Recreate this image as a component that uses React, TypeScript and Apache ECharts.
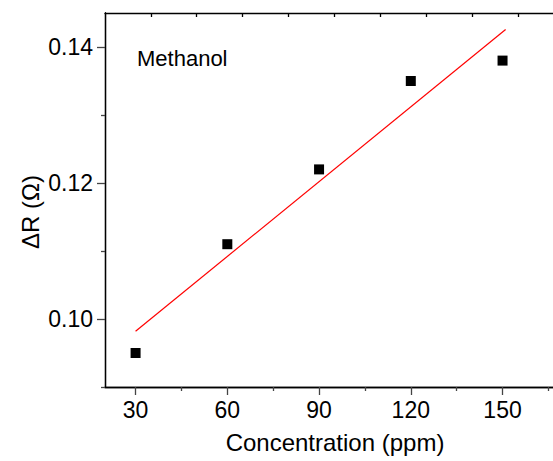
import React, { useEffect, useRef } from "react";
import * as echarts from "echarts";

const concentration = [30, 60, 90, 120, 150];
const deltaR = [0.095, 0.111, 0.122, 0.135, 0.138];
const fitRange = [30, 151];
const xMajorTicks = [30, 60, 90, 120, 150];
const xMinorTicks = [45, 75, 105, 135, 165];
const xTopTicks = [35, 50, 65, 80, 95, 110, 125, 140, 155];
const yMajorTicks = [0.1, 0.12, 0.14];
const yMinorTicks = [0.09, 0.11, 0.13];

const X_MIN = 20;
const X_MAX = 166.5;
const Y_MIN = 0.09;
const Y_MAX = 0.145;
const FONT = "Liberation Sans, Arial, sans-serif";

function linearFit(xs: number[], ys: number[]) {
  const n = xs.length;
  const mx = xs.reduce((a, b) => a + b, 0) / n;
  const my = ys.reduce((a, b) => a + b, 0) / n;
  let sxy = 0;
  let sxx = 0;
  for (let i = 0; i < n; i++) {
    sxy += (xs[i] - mx) * (ys[i] - my);
    sxx += (xs[i] - mx) * (xs[i] - mx);
  }
  const slope = sxy / sxx;
  return { slope, intercept: my - slope * mx };
}

export default function App() {
  const ref = useRef<HTMLDivElement>(null);
  useEffect(() => {
    if (!ref.current) return;
    const chart = echarts.init(ref.current, null, { renderer: "svg" });
    const { slope, intercept } = linearFit(concentration, deltaR);
    const fitData = fitRange.map((x) => [x, intercept + slope * x]);
    const axisLine = { show: true, lineStyle: { color: "#000", width: 1.3 } };
    const baseX = { type: "value", min: X_MIN, max: X_MAX, splitLine: { show: false } };
    const baseY = { type: "value", min: Y_MIN, max: Y_MAX, splitLine: { show: false } };
    chart.setOption({
      animation: false,
      backgroundColor: "#fff",
      grid: { left: 105, right: 0, top: 13, bottom: 74, containLabel: false },
      xAxis: [
        {
          ...baseX,
          position: "bottom",
          axisLine,
          axisTick: { show: true, inside: false, length: 8, customValues: xMajorTicks, lineStyle: { color: "#444", width: 1.3 } },
          axisLabel: { show: true, customValues: xMajorTicks, margin: 11, fontFamily: FONT, fontSize: 23, color: "#000" },
        },
        {
          ...baseX,
          position: "bottom",
          axisLine,
          axisTick: { show: true, inside: false, length: 4, customValues: xMinorTicks, lineStyle: { color: "#444", width: 1.3 } },
          axisLabel: { show: false },
        },
        {
          ...baseX,
          position: "top",
          axisLine,
          axisTick: { show: true, inside: true, length: 4, customValues: xTopTicks, lineStyle: { color: "#000", width: 1.3 } },
          axisLabel: { show: false },
        },
      ],
      yAxis: [
        {
          ...baseY,
          position: "left",
          axisLine,
          axisTick: { show: true, inside: false, length: 8, customValues: yMajorTicks, lineStyle: { color: "#444", width: 1.3 } },
          axisLabel: {
            show: true,
            customValues: yMajorTicks,
            margin: 12,
            fontFamily: FONT,
            fontSize: 23,
            color: "#000",
            formatter: (v: number) => v.toFixed(2),
          },
        },
        {
          ...baseY,
          position: "left",
          axisLine,
          axisTick: { show: true, inside: false, length: 4, customValues: yMinorTicks, lineStyle: { color: "#444", width: 1.3 } },
          axisLabel: { show: false },
        },
      ],
      graphic: [
        {
          type: "text",
          left: 137,
          top: 47,
          style: { text: "Methanol", fontFamily: FONT, fontSize: 22, fill: "#000" },
        },
        {
          type: "text",
          x: 335,
          y: 442,
          style: {
            text: "Concentration (ppm)",
            fontFamily: FONT,
            fontSize: 24,
            fill: "#000",
            textAlign: "center",
            textVerticalAlign: "middle",
          },
        },
        {
          type: "text",
          x: 30,
          y: 212,
          rotation: Math.PI / 2,
          style: {
            text: "ΔR (Ω)",
            fontFamily: FONT,
            fontSize: 24,
            fill: "#000",
            textAlign: "center",
            textVerticalAlign: "middle",
          },
        },
      ],
      series: [
        {
          type: "line",
          xAxisIndex: 0,
          yAxisIndex: 0,
          data: fitData,
          showSymbol: false,
          symbol: "none",
          lineStyle: { color: "#ff0000", width: 1.2 },
          z: 2,
        },
        {
          type: "scatter",
          xAxisIndex: 0,
          yAxisIndex: 0,
          data: concentration.map((x, i) => [x, deltaR[i]]),
          symbol: "rect",
          symbolSize: 10,
          itemStyle: { color: "#000", opacity: 1 },
          z: 3,
        },
      ],
    });
    return () => chart.dispose();
  }, []);
  return (
    <div
      ref={ref}
      style={{ position: "fixed", left: 0, top: 0, width: 553, height: 461, background: "#fff" }}
    />
  );
}
